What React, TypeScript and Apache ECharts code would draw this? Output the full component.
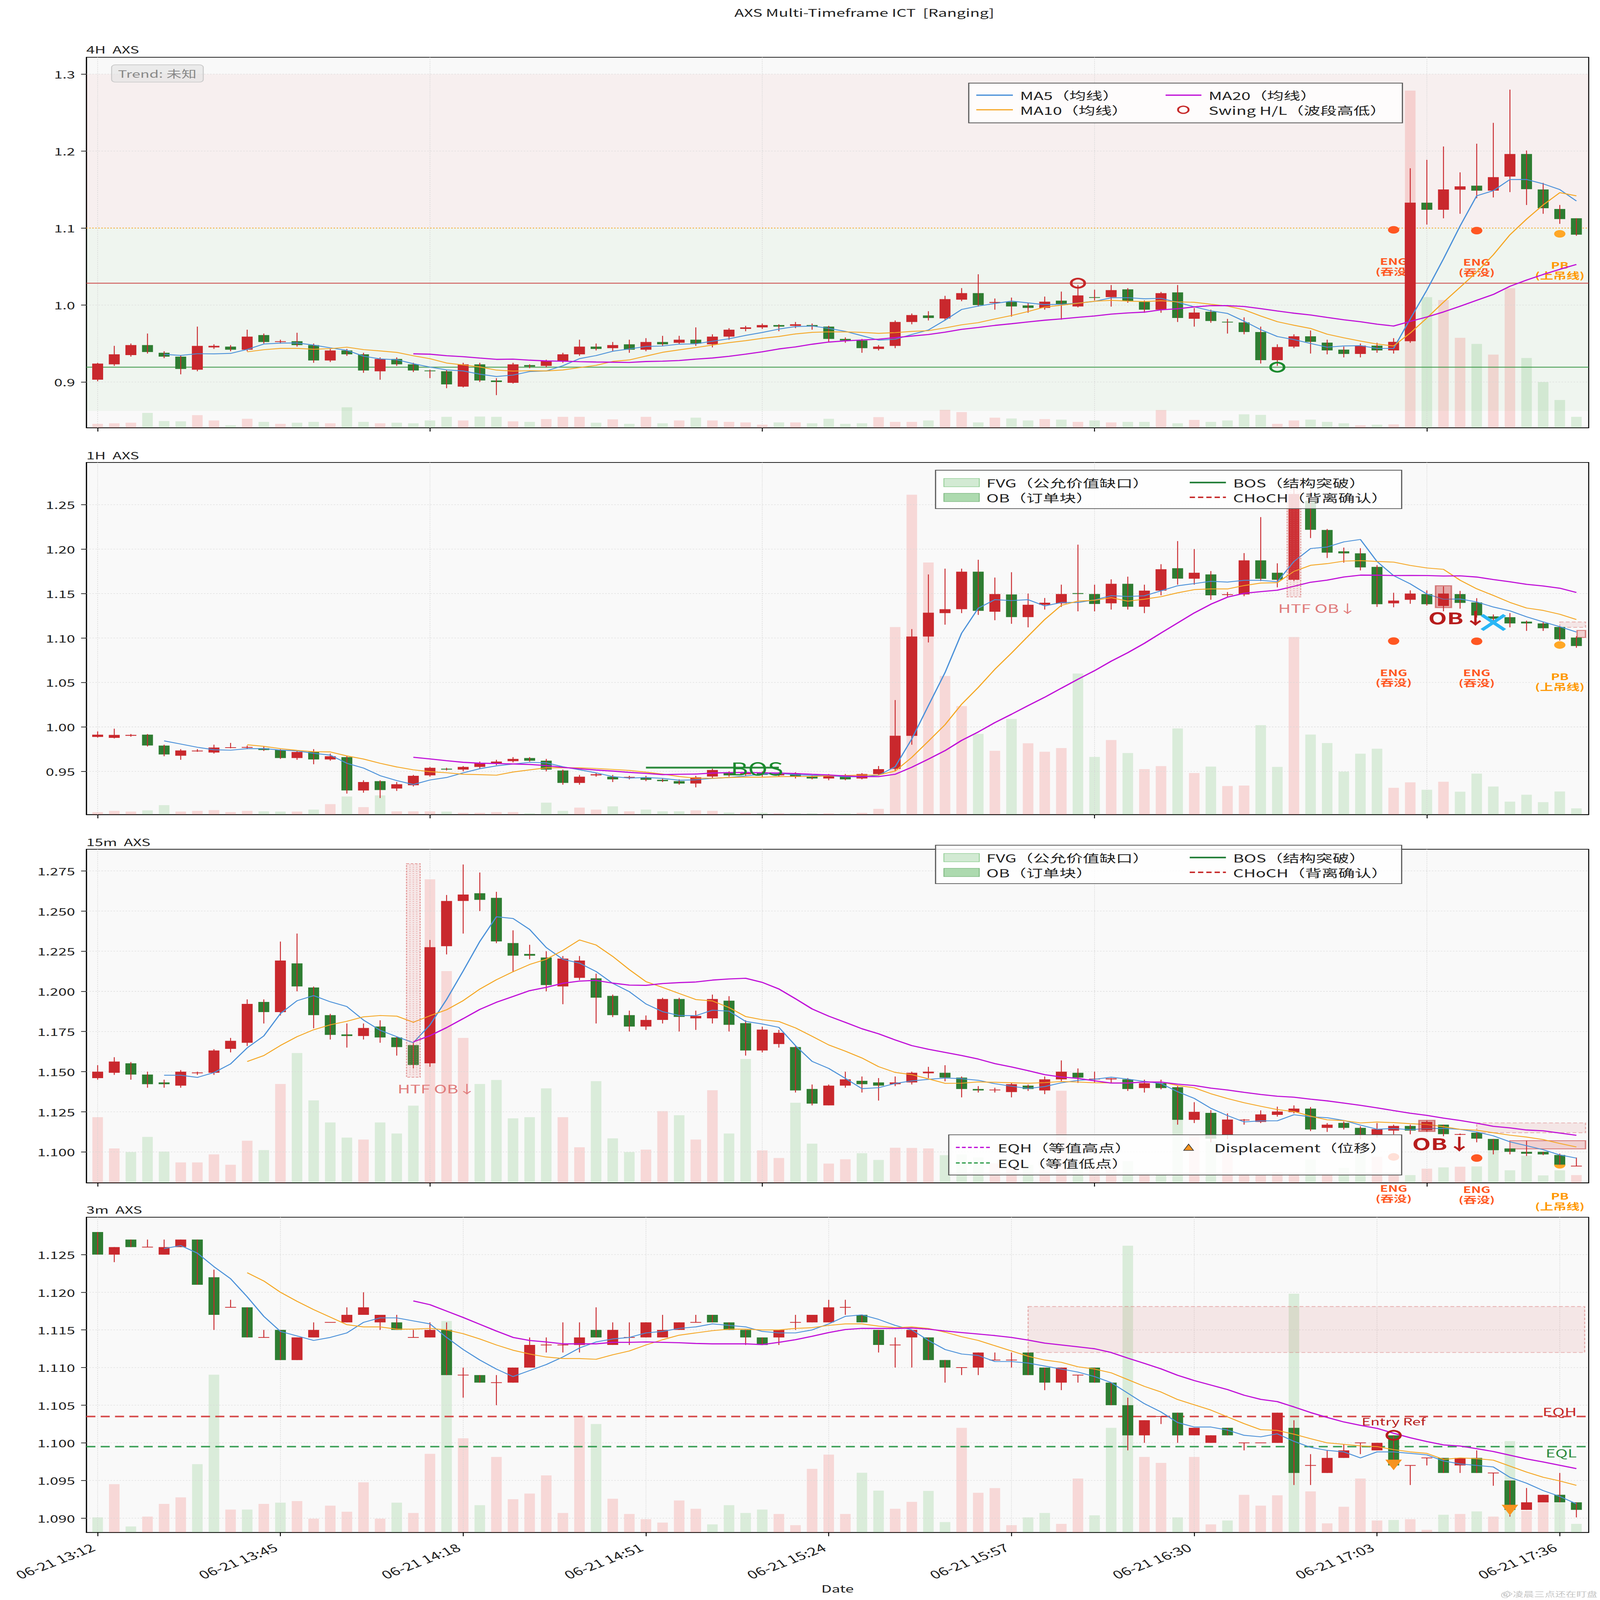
import React, { useEffect, useRef } from "react";
import * as echarts from "echarts";

// ======================= DATA =======================
// candles: [open, close, low, high]
const h4Candles = [
  [0.903,0.924,0.901,0.925],[0.923,0.936,0.921,0.947],[0.935,0.948,0.933,0.950],[0.948,0.939,0.937,0.963],[0.938,0.933,0.931,0.940],
  [0.933,0.917,0.910,0.935],[0.916,0.947,0.914,0.972],[0.945,0.947,0.943,0.949],[0.946,0.942,0.940,0.948],[0.942,0.959,0.940,0.968],
  [0.961,0.952,0.950,0.963],[0.952,0.953,0.950,0.955],[0.953,0.948,0.946,0.964],[0.948,0.928,0.925,0.950],[0.928,0.941,0.926,0.943],
  [0.941,0.936,0.934,0.943],[0.936,0.915,0.912,0.938],[0.914,0.930,0.903,0.932],[0.930,0.923,0.921,0.932],[0.923,0.915,0.913,0.925],
  [0.915,0.914,0.905,0.916],[0.914,0.897,0.892,0.916],[0.894,0.923,0.893,0.925],[0.923,0.902,0.900,0.925],[0.902,0.900,0.883,0.905],
  [0.899,0.923,0.898,0.925],[0.922,0.920,0.918,0.923],[0.921,0.927,0.919,0.929],[0.927,0.936,0.925,0.938],[0.936,0.946,0.934,0.955],
  [0.946,0.943,0.941,0.950],[0.944,0.948,0.940,0.952],[0.949,0.942,0.938,0.955],[0.942,0.952,0.940,0.957],[0.952,0.949,0.947,0.960],
  [0.951,0.955,0.949,0.960],[0.955,0.950,0.947,0.971],[0.949,0.959,0.945,0.962],[0.959,0.968,0.955,0.970],[0.969,0.971,0.966,0.973],
  [0.971,0.974,0.969,0.976],[0.974,0.972,0.966,0.975],[0.973,0.975,0.970,0.978],[0.974,0.972,0.968,0.976],[0.972,0.956,0.952,0.973],
  [0.956,0.954,0.951,0.958],[0.954,0.944,0.938,0.956],[0.943,0.946,0.941,0.948],[0.947,0.978,0.944,0.980],[0.978,0.987,0.975,0.989],
  [0.9865,0.9832,0.980,0.992],[0.9826,1.0077,0.980,1.012],[1.007,1.0155,1.005,1.022],[1.0155,1.000,0.998,1.040],[1.0028,1.004,0.994,1.0085],
  [1.0041,0.9982,0.985,1.0097],[0.9995,0.9963,0.990,1.003],[0.9963,1.0044,0.994,1.011],[1.0057,1.0015,0.981,1.0175],[0.9982,1.0125,0.997,1.026],
  [1.0103,1.0093,1.006,1.020],[1.0103,1.0194,0.998,1.026],[1.0204,1.0054,1.003,1.022],[1.004,0.994,0.990,1.006],[0.994,1.0155,0.990,1.017],
  [1.0165,0.9832,0.978,1.026],[0.9822,0.9903,0.972,0.996],[0.9913,0.9793,0.977,0.994],[0.9783,0.9774,0.963,0.982],[0.9774,0.965,0.962,0.984],
  [0.965,0.9284,0.924,0.972],[0.9284,0.9454,0.921,0.949],[0.946,0.9594,0.944,0.962],[0.9594,0.9522,0.937,0.967],[0.9512,0.9411,0.936,0.955],
  [0.9421,0.9365,0.932,0.946],[0.9365,0.9473,0.932,0.950],[0.9473,0.9411,0.938,0.951],[0.9411,0.9522,0.937,0.957],[0.953,1.133,0.951,1.1777],
  [1.133,1.1238,1.1046,1.1887],[1.1238,1.1502,1.1127,1.206],[1.1499,1.1542,1.1186,1.1724],[1.1551,1.1486,1.1388,1.2096],[1.1486,1.1662,1.1398,1.2367],
  [1.1669,1.1962,1.1467,1.2798],[1.1962,1.1506,1.130,1.2008],[1.1502,1.1258,1.1186,1.1587],[1.1248,1.1117,1.1055,1.130],[1.1127,1.0915,1.090,1.1127],
];
const h4Volume = [
  14,16,18,53,24,23,45,26,9,32, 21,14,18,21,16,73,21,16,18,16, 26,39,26,40,39,23,21,31,39,39,
  18,30,14,39,16,26,36,26,21,19, 11,19,19,16,32,14,16,38,21,21, 26,64,56,19,36,33,26,31,29,21,
  26,19,21,21,63,16,28,21,26,48, 46,14,26,29,21,16,9,11,12,1203, 466,456,321,299,261,498,249,163,99,39,
];

const h1Candles = [
  [0.9888,0.9913,0.988,0.995],[0.9877,0.991,0.987,0.998],[0.990,0.991,0.989,0.992],[0.9913,0.9791,0.978,0.992],[0.979,0.969,0.967,0.980],
  [0.9676,0.9735,0.963,0.975],[0.9728,0.973,0.972,0.975],[0.9712,0.9768,0.970,0.980],[0.9766,0.9768,0.976,0.982],[0.9765,0.9774,0.975,0.979],
  [0.976,0.974,0.973,0.978],[0.974,0.965,0.964,0.975],[0.965,0.9718,0.963,0.973],[0.972,0.9634,0.958,0.975],[0.9634,0.967,0.962,0.970],
  [0.966,0.9285,0.925,0.967],[0.9285,0.938,0.926,0.940],[0.939,0.929,0.920,0.940],[0.9307,0.9355,0.928,0.938],[0.9344,0.945,0.933,0.946],
  [0.9455,0.954,0.944,0.955],[0.953,0.952,0.951,0.954],[0.952,0.955,0.950,0.956],[0.955,0.959,0.953,0.961],[0.959,0.961,0.957,0.963],
  [0.9615,0.964,0.960,0.966],[0.965,0.962,0.961,0.966],[0.962,0.952,0.950,0.964],[0.951,0.937,0.935,0.952],[0.937,0.944,0.935,0.946],
  [0.9455,0.9467,0.944,0.948],[0.944,0.941,0.938,0.946],[0.9432,0.9435,0.941,0.945],[0.9433,0.9405,0.939,0.945],[0.9405,0.939,0.938,0.942],
  [0.939,0.9363,0.935,0.941],[0.9363,0.9433,0.932,0.945],[0.9442,0.9515,0.942,0.953],[0.949,0.9455,0.944,0.950],[0.9467,0.948,0.945,0.949],
  [0.949,0.946,0.944,0.950],[0.9455,0.9475,0.944,0.949],[0.9475,0.944,0.942,0.949],[0.944,0.942,0.941,0.946],[0.942,0.9455,0.940,0.947],
  [0.9455,0.941,0.940,0.947],[0.942,0.947,0.941,0.948],[0.9469,0.9525,0.946,0.956],[0.9528,0.9901,0.950,1.0302],[0.990,1.1017,0.980,1.110],
  [1.1017,1.1285,1.095,1.1715],[1.128,1.1324,1.115,1.178],[1.1324,1.1746,1.128,1.178],[1.1746,1.1305,1.126,1.188],[1.1296,1.1495,1.120,1.168],
  [1.149,1.1235,1.116,1.174],[1.1235,1.1374,1.112,1.150],[1.1374,1.1397,1.132,1.145],[1.139,1.1495,1.135,1.160],[1.1505,1.1495,1.130,1.205],
  [1.1495,1.1383,1.130,1.160],[1.139,1.161,1.132,1.166],[1.161,1.1352,1.132,1.169],[1.1352,1.1533,1.128,1.160],[1.1533,1.1774,1.148,1.183],
  [1.1785,1.1668,1.160,1.209],[1.1667,1.1734,1.160,1.200],[1.1715,1.148,1.143,1.1753],[1.1486,1.149,1.1465,1.1517],[1.149,1.1873,1.147,1.1955],
  [1.1873,1.1666,1.164,1.236],[1.1734,1.1655,1.157,1.184],[1.1655,1.262,1.164,1.270],[1.2545,1.2217,1.2124,1.266],[1.2215,1.196,1.190,1.2226],
  [1.1975,1.1952,1.1848,1.2017],[1.1952,1.1794,1.176,1.201],[1.180,1.138,1.135,1.182],[1.139,1.1421,1.1346,1.1509],[1.143,1.150,1.1385,1.1536],
  [1.1494,1.138,1.1365,1.1536],[1.136,1.150,1.130,1.158],[1.1494,1.1395,1.133,1.153],[1.140,1.1254,1.123,1.1448],[1.1243,1.1215,1.116,1.1265],
  [1.1234,1.1164,1.112,1.128],[1.1184,1.1164,1.108,1.1195],[1.1164,1.111,1.108,1.118],[1.1124,1.0986,1.097,1.113],[1.1005,1.091,1.089,1.102],
];
const h1Volume = [
  10,15,12,17,38,12,15,18,10,15, 13,12,12,20,42,73,30,77,13,13, 13,12,7,7,10,10,5,48,15,28,
  20,33,13,20,13,13,17,15,8,7, 7,5,5,5,5,5,7,23,755,1288, 1015,558,437,325,257,385,287,253,268,568,
  232,300,248,183,195,347,167,193,115,117, 360,192,715,322,288,173,245,265,108,130, 100,132,92,165,113,52,80,50,93,25,
];

const m15Candles = [
  [1.146,1.150,1.145,1.154],[1.1493,1.1563,1.148,1.159],[1.1552,1.1482,1.145,1.156],[1.1482,1.1422,1.140,1.150],[1.1433,1.1422,1.140,1.145],
  [1.1413,1.150,1.140,1.151],[1.149,1.1495,1.148,1.150],[1.1493,1.1632,1.148,1.164],[1.1642,1.1692,1.162,1.171],[1.168,1.1922,1.166,1.195],
  [1.1934,1.1871,1.180,1.195],[1.1871,1.2192,1.185,1.231],[1.2174,1.2031,1.200,1.236],[1.2024,1.1852,1.177,1.203],[1.1852,1.1729,1.170,1.186],
  [1.1732,1.1722,1.165,1.180],[1.1722,1.1772,1.170,1.180],[1.1781,1.1713,1.168,1.182],[1.1713,1.1653,1.160,1.172],[1.1665,1.1542,1.152,1.168],
  [1.1552,1.2275,1.153,1.232],[1.2281,1.2563,1.223,1.260],[1.2563,1.2603,1.236,1.279],[1.2611,1.257,1.250,1.274],[1.2582,1.2311,1.230,1.262],
  [1.2301,1.2222,1.212,1.238],[1.2233,1.2222,1.220,1.229],[1.2211,1.2039,1.200,1.225],[1.2031,1.2204,1.192,1.222],[1.2084,1.2192,1.207,1.222],
  [1.2081,1.1961,1.180,1.211],[1.1972,1.1852,1.184,1.198],[1.1852,1.1781,1.175,1.188],[1.1781,1.1822,1.176,1.185],[1.1822,1.1952,1.180,1.196],
  [1.1952,1.1841,1.175,1.196],[1.1832,1.1847,1.176,1.188],[1.1832,1.1952,1.180,1.198],[1.1942,1.1792,1.175,1.197],[1.1802,1.1632,1.160,1.182],
  [1.1632,1.1762,1.162,1.178],[1.1672,1.1742,1.165,1.176],[1.1653,1.1383,1.137,1.166],[1.1392,1.1301,1.129,1.142],[1.129,1.1413,1.129,1.142],
  [1.1413,1.1452,1.140,1.150],[1.1443,1.1422,1.137,1.147],[1.1433,1.1413,1.132,1.146],[1.1422,1.1433,1.141,1.147],[1.1433,1.1493,1.142,1.150],
  [1.149,1.150,1.146,1.153],[1.1493,1.1463,1.144,1.154],[1.1463,1.1392,1.134,1.147],[1.1392,1.1383,1.137,1.141],[1.1385,1.1387,1.137,1.140],
  [1.1373,1.1422,1.134,1.143],[1.1413,1.1392,1.138,1.142],[1.1383,1.1452,1.136,1.147],[1.1452,1.150,1.144,1.157],[1.1493,1.1463,1.143,1.152],
  [1.1453,1.1455,1.143,1.150],[1.1452,1.1458,1.143,1.146],[1.1452,1.1392,1.138,1.146],[1.1398,1.1428,1.137,1.145],[1.1428,1.1398,1.139,1.145],
  [1.1403,1.120,1.117,1.141],[1.120,1.125,1.118,1.131],[1.1243,1.1083,1.106,1.126],[1.1106,1.1202,1.108,1.124],[1.1198,1.120,1.117,1.1205],
  [1.1187,1.1234,1.118,1.1259],[1.1231,1.1252,1.122,1.1282],[1.1248,1.127,1.124,1.129],[1.127,1.114,1.113,1.128],[1.115,1.117,1.1125,1.118],
  [1.1181,1.115,1.114,1.119],[1.115,1.1106,1.108,1.116],[1.1106,1.1142,1.109,1.118],[1.1133,1.1162,1.111,1.117],[1.1162,1.1133,1.111,1.117],
  [1.1135,1.1187,1.1125,1.1195],[1.117,1.1111,1.1098,1.117],[1.1108,1.111,1.1105,1.1115],[1.112,1.1083,1.106,1.112],[1.1081,1.1011,1.0985,1.1081],
  [1.1022,1.1001,1.0985,1.1022],[1.1001,1.0989,1.0975,1.107],[1.1001,1.0985,1.098,1.1001],[1.0981,1.0921,1.092,1.099],[1.0911,1.0913,1.091,1.0965],
];
const m15Volume = [
  273,143,128,191,130,85,85,118,75,175, 136,411,540,343,251,188,180,251,205,321, 1263,881,603,411,428,268,273,393,273,148,
  423,185,128,138,298,281,180,385,205,515, 135,103,333,163,80,98,123,95,146,145, 143,115,118,105,81,63,75,53,383,95,
  65,53,90,40,35,263,200,173,130,39, 34,45,42,97,38,62,124,109,32,32, 59,64,67,68,136,52,113,31,52,32,
];

const m3Candles = [
  [1.128,1.125,1.125,1.128],[1.125,1.126,1.124,1.126],[1.127,1.126,1.126,1.127],[1.126,1.126,1.126,1.127],[1.125,1.126,1.125,1.127],
  [1.126,1.127,1.126,1.127],[1.127,1.121,1.121,1.127],[1.122,1.117,1.115,1.123],[1.118,1.118,1.118,1.119],[1.118,1.114,1.114,1.118],
  [1.114,1.114,1.114,1.115],[1.115,1.111,1.111,1.115],[1.111,1.114,1.111,1.114],[1.114,1.115,1.114,1.116],[1.116,1.116,1.116,1.116],
  [1.116,1.117,1.116,1.118],[1.117,1.118,1.117,1.120],[1.116,1.117,1.115,1.117],[1.116,1.115,1.115,1.117],[1.114,1.114,1.114,1.115],
  [1.114,1.115,1.114,1.116],[1.115,1.109,1.109,1.116],[1.109,1.109,1.106,1.110],[1.109,1.108,1.108,1.109],[1.108,1.108,1.105,1.109],
  [1.108,1.110,1.108,1.110],[1.110,1.113,1.110,1.114],[1.113,1.113,1.112,1.114],[1.113,1.113,1.112,1.116],[1.113,1.114,1.112,1.116],
  [1.115,1.114,1.114,1.118],[1.113,1.115,1.113,1.116],[1.114,1.114,1.113,1.116],[1.114,1.116,1.114,1.116],[1.114,1.115,1.114,1.117],
  [1.115,1.116,1.115,1.116],[1.116,1.116,1.116,1.117],[1.117,1.116,1.116,1.117],[1.116,1.115,1.115,1.116],[1.115,1.114,1.113,1.115],
  [1.114,1.113,1.113,1.114],[1.114,1.115,1.113,1.115],[1.116,1.116,1.115,1.117],[1.116,1.117,1.116,1.117],[1.116,1.118,1.116,1.119],
  [1.118,1.118,1.117,1.119],[1.117,1.116,1.116,1.117],[1.115,1.113,1.112,1.115],[1.113,1.113,1.110,1.114],[1.114,1.115,1.110,1.115],
  [1.114,1.111,1.111,1.114],[1.111,1.110,1.108,1.111],[1.110,1.110,1.109,1.110],[1.110,1.112,1.109,1.112],[1.111,1.111,1.111,1.112],
  [1.111,1.111,1.110,1.112],[1.112,1.109,1.109,1.112],[1.110,1.108,1.107,1.110],[1.108,1.110,1.107,1.110],[1.109,1.109,1.108,1.109],
  [1.110,1.108,1.108,1.110],[1.108,1.105,1.105,1.108],[1.105,1.101,1.099,1.106],[1.101,1.103,1.100,1.103],[1.1035,1.1035,1.1025,1.1035],
  [1.104,1.101,1.100,1.104],[1.101,1.102,1.101,1.102],[1.100,1.101,1.100,1.101],[1.102,1.101,1.101,1.102],[1.100,1.100,1.099,1.100],
  [1.100,1.100,1.100,1.100],[1.100,1.104,1.100,1.104],[1.102,1.096,1.0944,1.103],[1.097,1.097,1.0944,1.0985],[1.096,1.098,1.096,1.099],
  [1.098,1.099,1.098,1.0998],[1.100,1.100,1.0985,1.100],[1.099,1.100,1.099,1.100],[1.101,1.097,1.097,1.101],[1.097,1.097,1.0944,1.097],
  [1.098,1.098,1.097,1.098],[1.098,1.096,1.096,1.098],[1.097,1.098,1.096,1.098],[1.098,1.096,1.096,1.099],[1.096,1.096,1.0943,1.096],
  [1.095,1.0911,1.0902,1.095],[1.0911,1.0921,1.0911,1.094],[1.0921,1.0931,1.0921,1.0931],[1.0931,1.0921,1.0921,1.096],[1.0921,1.0911,1.0901,1.0921],
];
const m3Volume = [
  58,186,23,61,110,135,263,608,88,88, 110,115,121,53,103,80,193,53,115,75, 303,815,363,105,291,128,150,220,75,448,
  418,130,71,51,38,123,91,31,105,75, 88,71,28,245,300,71,230,161,91,118, 160,40,403,153,171,28,58,75,33,208,
  66,403,1105,291,268,58,291,31,46,145, 103,143,920,158,35,99,208,46,48,51, 10,68,71,81,61,352,83,118,115,33,
];

// ticks
const h4PriceTicks = [0.9, 1.0, 1.1, 1.2, 1.3];
const h1PriceTicks = [0.95, 1.0, 1.05, 1.1, 1.15, 1.2, 1.25];
const m15PriceTicks = [1.1, 1.125, 1.15, 1.175, 1.2, 1.225, 1.25, 1.275];
const m3PriceTicks = [1.09, 1.095, 1.1, 1.105, 1.11, 1.115, 1.12, 1.125];
const htfTickIdx = [0, 20, 40, 60, 80];
const m3TickIdx = [0, 11, 22, 33, 44, 55, 66, 77, 88];
const m3TickLabels = ["06-21 13:12", "06-21 13:45", "06-21 14:18", "06-21 14:51", "06-21 15:24", "06-21 15:57", "06-21 16:30", "06-21 17:03", "06-21 17:36"];
const maPeriods = [5, 10, 20];

// annotations (data coordinates: [index, price ...])
const h4PremiumZone = [1.1, 1.3];
const h4DiscountZone = [0.8625, 1.1];
const h4Levels = [1.1, 1.0284, 0.9193]; // equilibrium, swing-high level, swing-low level
const h4Swings = [[59, 1.0284, 1], [71, 0.9193, 0]];
const h4Patterns = [[78, 1.0977, 0], [83, 1.0967, 0], [88, 1.0925, 1]];

const h1Bos = [33, 41, 0.9542];
const h1BosLabel = [38.1, 0.9542];
const h1HtfOb = [72, 1.1463, 1.2795];
const h1Ob = [81, 1.1342, 1.1588];
const h1ObLabel = [81.87, 1.1234];
const h1Invalidation = [84, 1.1175];
const h1Zones = [[88, 89.55, 1.112, 1.118], [89.04, 89.55, 1.1006, 1.1085]];
const h1Patterns = [[78, 1.0966, 0], [83, 1.0963, 0], [88, 1.0921, 1]];

const m15HtfOb = [19, 1.1465, 1.2795];
const m15Ob = [80, 1.1128, 1.1197];
const m15ObLabel = [80.9, 1.1055];
const m15Zones = [[83, 89.55, 1.112, 1.1181], [85, 89.55, 1.1019, 1.107]];
const m15Patterns = [[78, 1.0969, 0], [83, 1.0962, 0], [88, 1.092, 1]];

const m3Zones = [[56, 89.5, 1.112, 1.1181]];
const m3EqLevels = [1.1035, 1.0995]; // EQH, EQL
const m3EqLabelX = 89.02;
const m3Entry = [78, 1.101];
const m3EntryLabel = [78, 1.1029];
const m3Displacement = [[78, 1.0971], [85, 1.0911]];

const PATTERN_TEXT = ["ENG\n(吞没)", "PB\n(上吊线)"];

// ======================= STYLE / LAYOUT =======================
const W = 4243, H = 6370;
const FONT = '"Noto Sans CJK SC", "Noto Sans", sans-serif';
const RED = "#c9282d";
const GREEN = "#2e7d32";
const VOL_UP = "rgba(239,83,80,0.2)";
const VOL_DN = "rgba(76,175,80,0.18)";
const MA_COLORS = ["#4a90d9", "#f5a623", "#c010d8"];
const MA_WIDTHS = [3.4, 3.4, 4.4];
const CANDLE_W = 29, VOL_W = 28;
const X_MIN = -0.68, X_MAX = 89.74;
const GRID_LEFT = 229, GRID_RIGHT = 30;
const LAYOUT = [
  { top: 228, height: 1475, yMin: 0.8406, yMax: 1.3219, volMax: 1322, title: "4H  AXS", titleY: 196 },
  { top: 1841, height: 1402, yMin: 0.9014, yMax: 1.2975, volMax: 1418, title: "1H  AXS", titleY: 1811 },
  { top: 3381, height: 1328, yMin: 1.0808, yMax: 1.2885, volMax: 1388, title: "15m  AXS", titleY: 3351 },
  { top: 4846, height: 1255, yMin: 1.0881, yMax: 1.12997, volMax: 1215, title: "3m  AXS", titleY: 4815 },
];
const GRID_LINE = { stroke: "#d6d6d6", lineWidth: 1.6, lineDash: [4, 4] };
const ZONE_FILLS = ["rgba(220,90,90,0.06)", "rgba(76,175,80,0.055)"];
const H4_LEVEL_STYLES = [
  { stroke: "#f5a623", lineWidth: 3.5, lineDash: [3, 5] },
  { stroke: "rgba(200,60,60,0.8)", lineWidth: 4 },
  { stroke: "rgba(60,150,70,0.85)", lineWidth: 4 },
];
const EQ_STYLES = [
  { stroke: "rgba(211,60,60,0.92)", lineWidth: 6, lineDash: [24, 14] },
  { stroke: "rgba(40,150,70,0.92)", lineWidth: 6, lineDash: [24, 14] },
];
const ZONE_STYLES = [
  { fill: "rgba(220,110,110,0.13)", stroke: "rgba(214,110,110,0.5)", lineWidth: 3, lineDash: [10, 6] },
  { fill: "rgba(214,90,90,0.25)", stroke: "rgba(198,60,60,0.6)", lineWidth: 3.5 },
];
const HTF_BOX_STYLE = { fill: "rgba(229,115,115,0.13)", stroke: "rgba(214,96,96,0.6)", lineWidth: 3, lineDash: [7, 4] };
const HTF_DOT_STYLE = { stroke: "rgba(214,96,96,0.45)", lineWidth: 3.5, lineDash: [2.5, 6] };
const OB_BOX_STYLE = { fill: "rgba(198,40,40,0.38)", stroke: "rgba(190,50,50,0.55)", lineWidth: 4 };
const PATTERN_DOT = ["#ff5722", "#ffa726"];
const PATTERN_COLOR = ["#ff5722", "#ff9800"];

// ======================= HELPERS =======================
function sma(candles: number[][], n: number) {
  const out: number[][] = [];
  for (let i = n - 1; i < candles.length; i++) {
    let s = 0;
    for (let k = i - n + 1; k <= i; k++) s += candles[k][1];
    out.push([i, s / n]);
  }
  return out;
}
function lineEl(x1: number, y1: number, x2: number, y2: number, style: any) {
  return { type: "line", shape: { x1, y1, x2, y2 }, style };
}
function textEl(x: number, y: number, text: string, style: any) {
  return { type: "text", x, y, style: { text, fontFamily: FONT, ...style } };
}
function overlay(g: number, z: number, items: any[], draw: any, yOff = 0) {
  const L = LAYOUT[g];
  return {
    type: "custom", xAxisIndex: g, yAxisIndex: 2 * g + yOff, z, silent: true, clip: false,
    data: items.map(() => [40, (L.yMin + L.yMax) / 2]),
    renderItem: (params: any, api: any) => draw(items[params.dataIndex], api, params.coordSys, params.dataIndex),
  };
}
const candleRender = (_p: any, api: any) => {
  const i = api.value(0), o = api.value(1), c = api.value(2), l = api.value(3), h = api.value(4);
  const po = api.coord([i, o]), pc = api.coord([i, c]), pl = api.coord([i, l]), ph = api.coord([i, h]);
  const up = c >= o;
  let y0 = Math.min(po[1], pc[1]), y1 = Math.max(po[1], pc[1]);
  if (y1 - y0 < 3) { const m = (y0 + y1) / 2; y0 = m - 1.5; y1 = m + 1.5; }
  return {
    type: "group",
    children: [
      { type: "rect", shape: { x: po[0] - CANDLE_W / 2, y: y0, width: CANDLE_W, height: y1 - y0 }, style: { fill: up ? RED : GREEN } },
      lineEl(ph[0], ph[1], pl[0], pl[1], { stroke: RED, lineWidth: 2.5 }),
    ],
  };
};
const volRender = (_p: any, api: any) => {
  const i = api.value(0), v = api.value(1), up = api.value(2);
  const p0 = api.coord([i, 0]), p1 = api.coord([i, v]);
  return { type: "rect", shape: { x: p0[0] - VOL_W / 2, y: p1[1], width: VOL_W, height: p0[1] - p1[1] }, style: { fill: up ? VOL_UP : VOL_DN } };
};
const bandDraw = (fills: string[]) => (r: number[], api: any, cs: any, k: number) => {
  const yTop = api.coord([0, r[1]])[1], yBot = api.coord([0, r[0]])[1];
  return { type: "rect", shape: { x: cs.x, y: yTop, width: cs.width, height: yBot - yTop }, style: { fill: fills[k] } };
};
const levelDraw = (styles: any[]) => (v: number, api: any, cs: any, k: number) => {
  const y = api.coord([0, v])[1];
  return lineEl(cs.x, y, cs.x + cs.width, y, styles[k]);
};
const zoneDraw = (z: number[], api: any, _cs: any, k: number) => {
  const p0 = api.coord([z[0], z[3]]), p1 = api.coord([z[1], z[2]]);
  return { type: "rect", shape: { x: p0[0], y: p0[1], width: p1[0] - p0[0], height: p1[1] - p0[1] }, style: ZONE_STYLES[k] };
};
const patternDraw = (p: number[], api: any) => {
  const [x, y] = api.coord([p[0], p[1]]);
  const kind = p[2];
  return {
    type: "group",
    children: [
      { type: "circle", shape: { cx: x, cy: y, r: 15 }, style: { fill: PATTERN_DOT[kind] } },
      textEl(x, y + 104, PATTERN_TEXT[kind], { fill: PATTERN_COLOR[kind], fontSize: 35, fontWeight: "bold", align: "center", verticalAlign: "top", lineHeight: 40 }),
    ],
  };
};
const htfDraw = (b: number[], api: any) => {
  const pLo = api.coord([b[0], b[1]]), pHi = api.coord([b[0], b[2]]);
  const sp = api.size([1, 0])[0];
  const w = 36, x = pLo[0] - w / 2;
  const ch: any[] = [{ type: "rect", shape: { x, y: pHi[1], width: w, height: pLo[1] - pHi[1] }, style: HTF_BOX_STYLE }];
  [9, 18, 27].forEach((dx) => ch.push(lineEl(x + dx, pHi[1] + 4, x + dx, pLo[1] - 4, HTF_DOT_STYLE)));
  ch.push(textEl(pLo[0] - 0.95 * sp, pLo[1] + 44, "HTF OB↓", { fill: "#e07b7b", fontSize: 46, align: "left", verticalAlign: "middle" }));
  return { type: "group", children: ch };
};
const obDraw = (b: number[], api: any) => {
  const pLo = api.coord([b[0], b[1]]), pHi = api.coord([b[0], b[2]]);
  return { type: "rect", shape: { x: pLo[0] - 21, y: pHi[1], width: 42, height: pLo[1] - pHi[1] }, style: OB_BOX_STYLE };
};
const obLabelDraw = (p: number[], api: any) => {
  const [x, y] = api.coord(p);
  return textEl(x, y, "OB↓", { fill: "#b71c1c", fontSize: 64, fontWeight: "bold", align: "center", verticalAlign: "middle" });
};

// ======================= OPTION =======================
function buildOption() {
  const panels = [
    { candles: h4Candles, vol: h4Volume, ticks: h4PriceTicks, dec: 1, xTicks: htfTickIdx },
    { candles: h1Candles, vol: h1Volume, ticks: h1PriceTicks, dec: 2, xTicks: htfTickIdx },
    { candles: m15Candles, vol: m15Volume, ticks: m15PriceTicks, dec: 3, xTicks: htfTickIdx },
    { candles: m3Candles, vol: m3Volume, ticks: m3PriceTicks, dec: 3, xTicks: m3TickIdx },
  ];
  const grid: any[] = [], xAxis: any[] = [], yAxis: any[] = [], series: any[] = [];
  const tickStyle = { color: "#000", width: 2.5 };
  panels.forEach((p, g) => {
    const L = LAYOUT[g];
    grid.push({ left: GRID_LEFT, right: GRID_RIGHT, top: L.top, height: L.height, show: true, backgroundColor: "#f9f9f9", borderColor: "#000", borderWidth: 2.7 });
    xAxis.push({
      type: "value", gridIndex: g, min: X_MIN, max: X_MAX,
      axisLine: { show: true, onZero: false, lineStyle: { color: "#000", width: 2.7 } },
      axisTick: { show: true, customValues: p.xTicks, length: 15, lineStyle: tickStyle },
      axisLabel: { show: false },
      splitLine: { show: false },
    });
    yAxis.push({
      type: "value", gridIndex: g, min: L.yMin, max: L.yMax, position: "left",
      axisLine: { show: true, onZero: false, lineStyle: { color: "#000", width: 2.7 } },
      axisTick: { show: true, customValues: p.ticks, length: 14, lineStyle: tickStyle },
      axisLabel: { show: true, customValues: p.ticks, formatter: (v: number) => v.toFixed(p.dec), fontSize: 40, color: "#222", margin: 30, fontFamily: FONT },
      splitLine: { show: false },
    });
    yAxis.push({ type: "value", gridIndex: g, min: 0, max: L.volMax, position: "right", show: false, splitLine: { show: false } });

    series.push(overlay(g, 3, [0], (_it: any, api: any, cs: any) => {
      const ch: any[] = [];
      p.ticks.forEach((t) => { const y = api.coord([0, t])[1]; ch.push(lineEl(cs.x, y, cs.x + cs.width, y, GRID_LINE)); });
      p.xTicks.forEach((t) => { const x = api.coord([t, L.yMin])[0]; ch.push(lineEl(x, cs.y, x, cs.y + cs.height, GRID_LINE)); });
      return { type: "group", children: ch };
    }));
    series.push({
      type: "custom", xAxisIndex: g, yAxisIndex: 2 * g + 1, z: 2, silent: true,
      data: p.vol.map((v, i) => [i, v, p.candles[i][1] >= p.candles[i][0] ? 1 : 0]),
      renderItem: volRender,
    });
    series.push({
      type: "custom", xAxisIndex: g, yAxisIndex: 2 * g, z: 5, silent: true, clip: false,
      data: p.candles.map((c, i) => [i, c[0], c[1], c[2], c[3]]),
      encode: { x: 0, y: [1, 2, 3, 4] },
      renderItem: candleRender,
    });
    maPeriods.forEach((n, k) => {
      series.push({
        type: "line", xAxisIndex: g, yAxisIndex: 2 * g, z: 6, silent: true, symbol: "none", showSymbol: false,
        data: sma(p.candles, n), lineStyle: { color: MA_COLORS[k], width: MA_WIDTHS[k] }, itemStyle: { color: MA_COLORS[k] },
      });
    });
  });

  // ---- 4H ----
  series.push(overlay(0, 1, [h4PremiumZone, h4DiscountZone], bandDraw(ZONE_FILLS)));
  series.push(overlay(0, 3, h4Levels, levelDraw(H4_LEVEL_STYLES)));
  series.push(overlay(0, 4, h4Patterns, patternDraw));
  series.push(overlay(0, 7, h4Swings, (s: number[], api: any) => {
    const [x, y] = api.coord([s[0], s[1]]);
    return { type: "circle", shape: { cx: x, cy: y, r: 18 }, style: { fill: "none", stroke: s[2] ? "#c62828" : "#1b8a2e", lineWidth: 7 } };
  }));

  // ---- 1H ----
  series.push(overlay(1, 4, h1Zones, zoneDraw));
  series.push(overlay(1, 4, h1Patterns, patternDraw));
  series.push(overlay(1, 7, [h1Bos], (b: number[], api: any) => {
    const p0 = api.coord([b[0], b[2]]), p1 = api.coord([b[1], b[2]]);
    const pl = api.coord(h1BosLabel);
    return {
      type: "group",
      children: [
        lineEl(p0[0], p0[1], p1[0], p1[1], { stroke: "#2e8b3e", lineWidth: 7 }),
        textEl(pl[0], pl[1], "BOS", { fill: "#1b8a2e", fontSize: 70, align: "left", verticalAlign: "middle" }),
      ],
    };
  }));
  series.push(overlay(1, 7, [h1HtfOb], htfDraw));
  series.push(overlay(1, 7, [h1Ob], obDraw));
  series.push(overlay(1, 7, [h1ObLabel], obLabelDraw));
  series.push(overlay(1, 7, [h1Invalidation], (pt: number[], api: any) => {
    const [x, y] = api.coord(pt);
    const s = 30, st = { stroke: "#29b6f6", lineWidth: 11 };
    return { type: "group", children: [lineEl(x - s, y - s, x + s, y + s, st), lineEl(x - s, y + s, x + s, y - s, st)] };
  }));

  // ---- 15m ----
  series.push(overlay(2, 4, m15Zones, zoneDraw));
  series.push(overlay(2, 4, m15Patterns, patternDraw));
  series.push(overlay(2, 7, [m15HtfOb], htfDraw));
  series.push(overlay(2, 7, [m15Ob], obDraw));
  series.push(overlay(2, 7, [m15ObLabel], obLabelDraw));

  // ---- 3m ----
  series.push(overlay(3, 4, m3Zones, zoneDraw));
  series.push(overlay(3, 3, m3EqLevels, levelDraw(EQ_STYLES)));
  series.push(overlay(3, 7, m3EqLevels, (v: number, api: any, _cs: any, k: number) => {
    const [x, y] = api.coord([m3EqLabelX, v]);
    return k === 0
      ? textEl(x, y - 22, "EQH", { fill: "#c62828", fontSize: 44, align: "right", verticalAlign: "middle" })
      : textEl(x, y + 24, "EQL", { fill: "#2e8b3e", fontSize: 44, align: "right", verticalAlign: "middle" });
  }));
  series.push(overlay(3, 7, [m3Entry], (pt: number[], api: any) => {
    const [x, y] = api.coord(pt);
    const [lx, ly] = api.coord(m3EntryLabel);
    return {
      type: "group",
      children: [
        { type: "circle", shape: { cx: x, cy: y, r: 18 }, style: { fill: "none", stroke: "#b71c1c", lineWidth: 7 } },
        textEl(lx, ly, "Entry Ref", { fill: "#b71c1c", fontSize: 40, align: "center", verticalAlign: "middle" }),
      ],
    };
  }));
  series.push(overlay(3, 7, m3Displacement, (pt: number[], api: any) => {
    const [x, y] = api.coord(pt);
    return { type: "polygon", shape: { points: [[x - 22, y - 20], [x + 22, y - 20], [x, y + 22]] }, style: { fill: "#f7931e" } };
  }));
  // rotated time labels under the 3m axis (placed from the axis scale)
  series.push(overlay(3, 7, m3TickIdx, (t: number, api: any, cs: any, k: number) => {
    const x = api.coord([t, LAYOUT[3].yMin])[0];
    return {
      type: "text", x: x - 13, y: cs.y + cs.height + 54, rotation: Math.PI / 6,
      style: { text: m3TickLabels[k], fontFamily: FONT, fontSize: 44, fill: "#222", align: "right", verticalAlign: "middle" },
    };
  }));

  // ======================= GRAPHIC =======================
  const gz = 100;
  const gText = (x: number, y: number, text: string, style: any) => ({ type: "text", z: gz + 1, x, y, style: { text, fontFamily: FONT, fill: "#222", ...style } });
  const lgFrame = (x: number, y: number, w: number, h: number) => ({ type: "rect", z: gz, shape: { x, y, width: w, height: h }, style: { fill: "rgba(255,255,255,0.82)", stroke: "#555", lineWidth: 3 } });
  const lgText = (x: number, y: number, t: string) => gText(x, y, t, { fontSize: 44, align: "left", verticalAlign: "middle" });
  const lgLine = (x1: number, x2: number, y: number, stroke: string, width: number, dash?: number[]) => ({ type: "line", z: gz + 1, shape: { x1, y1: y, x2, y2: y }, style: { stroke, lineWidth: width, lineDash: dash } });
  const lgPatch = (x: number, y: number, fill: string, stroke: string) => ({ type: "rect", z: gz + 1, shape: { x, y: y - 16, width: 94, height: 33 }, style: { fill, stroke, lineWidth: 2 } });
  const smcLegend = (y0: number) => [
    lgFrame(2481, y0, 1236, 153),
    lgPatch(2503, y0 + 49, "rgba(129,199,132,0.35)", "rgba(76,175,80,0.6)"),
    lgText(2616, y0 + 49, "FVG（公允价值缺口）"),
    lgPatch(2503, y0 + 108, "rgba(76,175,80,0.45)", "rgba(56,142,60,0.6)"),
    lgText(2616, y0 + 108, "OB（订单块）"),
    lgLine(3155, 3251, y0 + 49, "#1e7b34", 6),
    lgText(3270, y0 + 49, "BOS（结构突破）"),
    lgLine(3155, 3251, y0 + 108, "#c62828", 6, [14, 8]),
    lgText(3270, y0 + 108, "CHoCH（背离确认）"),
  ];

  const graphic: any[] = [
    gText(2292, 49, "AXS Multi-Timeframe ICT  [Ranging]", { fontSize: 42, align: "center", verticalAlign: "middle" }),
    ...LAYOUT.map((L) => gText(GRID_LEFT, L.titleY, L.title, { fontSize: 40, align: "left", verticalAlign: "middle" })),
    gText(2221, 6323, "Date", { fontSize: 40, align: "center", verticalAlign: "middle" }),
    { type: "polygon", z: gz, shape: { points: [[3998, 6334], [4010, 6346], [3998, 6358], [3986, 6346]] }, style: { fill: "none", stroke: "#c8c8c8", lineWidth: 2 } },
    gText(4236, 6346, "@ 凌晨三点还在盯盘", { fontSize: 28, fill: "#c4c4c4", align: "right", verticalAlign: "middle" }),
    { type: "rect", z: gz, shape: { x: 296, y: 258, width: 243, height: 69, r: 10 }, style: { fill: "rgba(225,225,225,0.6)", stroke: "#c8c8c8", lineWidth: 2.5 } },
    gText(417, 292, "Trend: 未知", { fontSize: 40, fill: "#888", align: "center", verticalAlign: "middle" }),
    lgFrame(2569, 331, 1150, 158),
    lgLine(2589, 2686, 379, MA_COLORS[0], 5), lgText(2705, 379, "MA5（均线）"),
    lgLine(3091, 3186, 379, MA_COLORS[2], 5), lgText(3205, 379, "MA20（均线）"),
    lgLine(2589, 2686, 437, MA_COLORS[1], 5), lgText(2705, 437, "MA10（均线）"),
    { type: "circle", z: gz + 1, shape: { cx: 3138, cy: 437, r: 14 }, style: { fill: "none", stroke: "#c62828", lineWidth: 5 } },
    lgText(3205, 437, "Swing H/L（波段高低）"),
    ...smcLegend(1872),
    ...smcLegend(3365),
    lgFrame(2516, 4518, 1201, 160),
    lgLine(2535, 2630, 4568, "#c010d8", 5, [10, 6]), lgText(2646, 4568, "EQH（等值高点）"),
    lgLine(2535, 2630, 4630, "#2e9b4a", 5, [10, 6]), lgText(2646, 4630, "EQL（等值低点）"),
    { type: "polygon", z: gz + 1, shape: { points: [[3139, 4580], [3165, 4580], [3152, 4555]] }, style: { fill: "#f7931e", stroke: "#333", lineWidth: 2 } },
    lgText(3220, 4568, "Displacement（位移）"),
  ];

  return {
    animation: false,
    backgroundColor: "#ffffff",
    textStyle: { fontFamily: FONT },
    grid, xAxis, yAxis, series, graphic,
  };
}

export default function App() {
  const ref = useRef<HTMLDivElement>(null);
  useEffect(() => {
    document.body.style.margin = "0";
    document.body.style.overflow = "hidden";
    const el = ref.current as HTMLDivElement;
    // The capture window can be smaller than the requested 4243x6370; fit the whole figure into it.
    const vw = window.innerWidth, vh = window.innerHeight;
    const sx = Math.min(1, vw / W), sy = Math.min(1, vh / H);
    if (sx < 1 || sy < 1) {
      el.style.transformOrigin = "0 0";
      el.style.transform = `scale(${sx}, ${sy})`;
    }
    const chart = echarts.init(el, null, { renderer: "svg", width: W, height: H });
    chart.setOption(buildOption() as any);
    return () => chart.dispose();
  }, []);
  return <div ref={ref} style={{ width: W, height: H }} />;
}
